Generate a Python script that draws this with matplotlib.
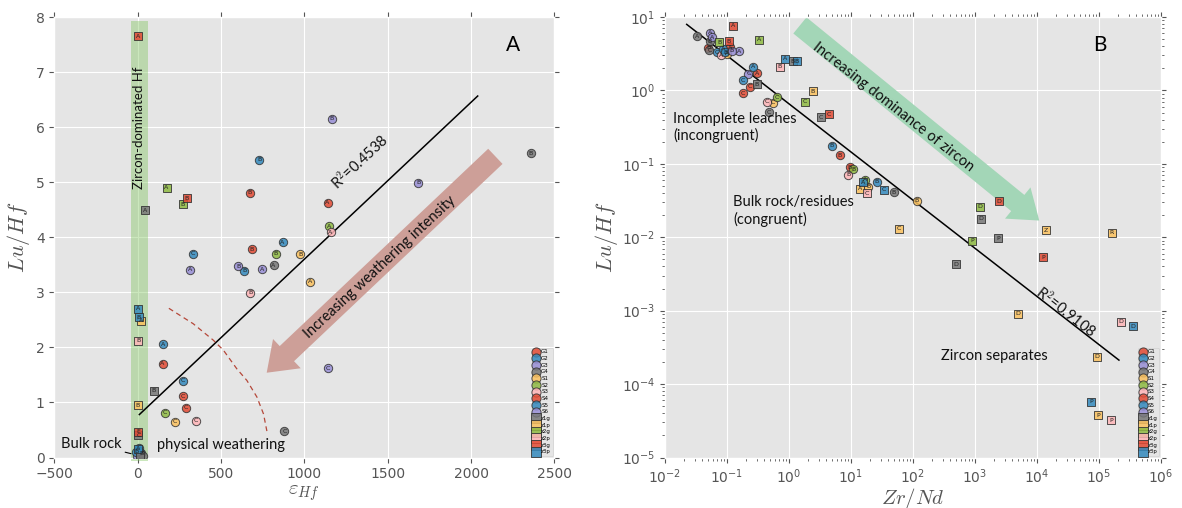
import matplotlib.pyplot as plt
from matplotlib.patches import Rectangle

plt.style.use('ggplot')
plt.rcParams['mathtext.fontset'] = 'cm'

GROUPS = ['G1', 'G2', 'G3', 'G4', 'S1', 'S2', 'S3', 'S4', 'S5', 'S6',
          'z1g', 'z1p', 'z2g', 'z2p', 'z3g', 'z3p']
COLORS = {'G1': '#E24A33', 'G2': '#348ABD', 'G3': '#988ED5', 'G4': '#777777',
          'S1': '#FBC15E', 'S2': '#8EBA42', 'S3': '#FFB5B8', 'S4': '#E24A33',
          'S5': '#348ABD', 'S6': '#988ED5',
          'z1g': '#777777', 'z1p': '#FBC15E', 'z2g': '#8EBA42',
          'z2p': '#FFB5B8', 'z3g': '#E24A33', 'z3p': '#348ABD'}

# panel A: epsilon Hf vs Lu/Hf
eps_hf = [329, 313, 604, 639, 747, 815, 683, 827, 974, 869, 1034, 675,
          153, 149, 273, 273, 291, 165, 223, 349, 880, 1140, 1163, 729,
          671, 1139, 1149, 1157, 2357, 1683,
          5, -8, 12, 22, -4, 30, 8,
          0, 173, 293, 271, 42, 2, 5, 18, 2, 96, 0, 2, 4, 0, 12]
lu_hf_a = [3.70, 3.41, 3.47, 3.39, 3.42, 3.49, 3.78, 3.70, 3.69, 3.91, 3.19, 2.99,
           2.06, 1.70, 1.39, 1.11, 0.90, 0.81, 0.65, 0.67, 0.48, 1.62, 6.15, 5.41,
           4.81, 4.63, 4.20, 4.09, 5.53, 4.99,
           0.17, 0.10, 0.05, 0.08, 0.03, 0.02, 0.12,
           7.65, 4.90, 4.71, 4.60, 4.49, 2.70, 2.55, 2.48, 2.12, 1.21, 0.95, 0.47, 0.40, 0.15, 0.05]
grp_a = ['G2', 'G3', 'S6', 'S5', 'S6', 'G4', 'S4', 'S2', 'S1', 'S5', 'S1', 'S3',
         'G2', 'G1', 'S5', 'G1', 'S4', 'S2', 'S1', 'S3', 'G4', 'G3', 'G3', 'G2',
         'G1', 'S4', 'S2', 'S3', 'G4', 'S6',
         'G2', 'S5', 'G4', 'G2', 'G3', 'G4', 'S5',
         'z3g', 'z2g', 'z3g', 'z2g', 'z1g', 'z3p', 'z3p', 'z1p', 'z2p', 'z1g', 'z1p', 'z3g', 'z1g', 'z3p', 'z1g']
lab_a = ['C', 'A', 'B', 'B', 'A', 'A', 'B', 'B', 'B', 'A', 'A', 'B',
         'A', 'A', 'C', 'C', 'C', 'C', 'C', 'C', 'C', 'C', 'B', 'B',
         'B', 'A', 'A', 'A', 'B', 'B',
         'A', 'B', '', 'B', '', '', '',
         'A', 'A', 'B', 'B', 'A', 'A', 'B', 'A', 'B', 'B', 'B', 'E', 'C', '', '']

# panel B: Zr/Nd vs Lu/Hf
zr_nd = [0.0332, 0.0532, 0.0566, 0.0532, 0.0519, 0.0499, 0.0698, 0.0871, 0.0939,
         0.0791, 0.0989, 0.119, 0.158, 0.112, 0.262, 0.221, 0.305, 0.183, 0.235,
         0.179, 0.436, 0.558, 0.648, 0.475, 4.89, 6.65, 9.64, 10.9, 9.04, 16.8,
         26.0, 19.0, 49.4, 115,
         0.126, 0.0751, 0.106, 0.324, 0.861, 0.716, 1.33, 1.15, 0.301, 2.41, 1.83,
         4.42, 3.24, 15.8, 14.0, 18.3, 34.0, 59.4, 2410, 1190, 1240, 904, 2380,
         489, 14100, 160000, 12600, 4890, 229000, 357000, 91800, 74300, 97500, 156000]
lu_hf_b = [5.52, 6.07, 5.35, 4.72, 3.53, 3.84, 3.34, 3.72, 3.34,
           3.02, 3.18, 3.45, 3.42, 3.91, 2.09, 1.70, 1.73, 1.38, 1.12,
           0.91, 0.70, 0.679, 0.804, 0.502, 0.177, 0.132, 0.090, 0.085, 0.0707, 0.0604,
           0.0573, 0.049, 0.0411, 0.0313,
           7.64, 4.57, 4.72, 4.93, 2.72, 2.09, 2.52, 2.52, 1.21, 0.969, 0.70,
           0.472, 0.430, 0.0562, 0.0456, 0.0399, 0.0442, 0.0130, 0.0310, 0.0262, 0.0180, 0.00895, 0.00975,
           0.00427, 0.01253, 0.0116, 0.00532, 0.000914, 0.000705, 0.000614, 0.000236, 5.77e-5, 3.79e-5, 3.21e-5]
grp_b = ['G4', 'G3', 'S6', 'G4', 'G4', 'G1', 'G2', 'S5', 'S5',
         'S3', 'S1', 'S6', 'G3', 'S4', 'G2', 'G3', 'G1', 'S5', 'G1',
         'S4', 'S3', 'S1', 'S2', 'G4', 'G2', 'S4', 'G1', 'S2', 'S3', 'S2',
         'S5', 'S1', 'G4', 'S1',
         'z3g', 'z2g', 'z3g', 'z2g', 'z3p', 'z2p', 'z3p', 'z1g', 'z1g', 'z1p', 'z2g',
         'z3g', 'z1g', 'z3p', 'z1p', 'z2p', 'z3p', 'z1p', 'z3g', 'z2g', 'z1g', 'z2g', 'z1g',
         'z1g', 'z1p', 'z1p', 'z3g', 'z1p', 'z2p', 'z3p', 'z1p', 'z3p', 'z1p', 'z2p']
lab_b = ['A', 'A', 'A', 'B', 'C', 'B', 'C', 'A', 'B',
         'A', 'A', 'B', 'A', 'A', 'A', 'C', 'A', 'C', 'C',
         'C', 'C', 'C', 'C', 'C', 'B', 'B', 'B', 'B', 'B', 'A',
         'B', 'B', 'B', 'B',
         'A', 'B', 'B', 'A', 'A', 'B', 'B', 'B', 'B', 'B', 'C',
         'C', 'C', 'A', 'A', 'C', 'C', 'C', 'D', 'D', 'D', 'P', 'P',
         'D', 'Z', 'R', 'P', 'D', 'D', 'D', 'D', 'P', 'P', 'P']

# regression fits as drawn in the figure
fit_a_slope, fit_a_intercept = 0.00285, 0.752
fit_a_x = [10, 2040]
fit_b_exp, fit_b_coef = -0.656, 0.658
fit_b_x = [0.0224, 2.1e5]

# dashed boundary traced in panel A
arc_x = [187, 333, 454, 514, 595, 655, 715, 755, 775]
arc_y = [2.71, 2.43, 2.13, 1.95, 1.61, 1.40, 1.10, 0.79, 0.48]

TXT = dict(family='Lato', fontsize=10.5, color='#111111')


def plot_points(ax, xs, ys, grps, labs):
    for g in GROUPS:
        idx = [i for i, gg in enumerate(grps) if gg == g]
        marker = 's' if g.startswith('z') else 'o'
        ax.scatter([xs[i] for i in idx], [ys[i] for i in idx], s=36, marker=marker,
                   c=COLORS[g], edgecolors='#333333', linewidths=0.7, alpha=0.85,
                   label=g, zorder=3)
    for x, y, l in zip(xs, ys, labs):
        if l:
            ax.text(x, y, l, fontsize=4.5, ha='center', va='center',
                    color='#222222', zorder=4, clip_on=True)


def add_legend(ax):
    ax.legend(loc='lower right', fontsize=4, scatterpoints=1, labelspacing=0.3,
              handletextpad=0.4, handlelength=1.0, borderpad=0.3,
              borderaxespad=0.3, markerscale=1.1)


fig = plt.figure(figsize=(11.82, 5.08), dpi=100)

# ---- panel A ----
ax1 = fig.add_axes([0.046, 0.0994, 0.423, 0.867])
ax1.add_patch(Rectangle((-40, -0.07), 100, 8.0, fc='#7dc35a', alpha=0.4,
                        ec='none', clip_on=False, zorder=1))
ax1.plot(fit_a_x, [fit_a_intercept + fit_a_slope * x for x in fit_a_x],
         color='k', lw=1.1, zorder=2)
ax1.plot(arc_x, arc_y, ls=(0, (4, 3)), color='#b5483a', lw=0.9, zorder=2)
ax1.annotate('', xy=(774, 1.54), xytext=(2146, 5.47),
             arrowprops=dict(arrowstyle='simple,head_length=2.0,head_width=2.9,tail_width=1.5',
                             mutation_scale=10, fc='#cd9f98', ec='none',
                             shrinkA=0, shrinkB=0), zorder=1.5)
plot_points(ax1, eps_hf, lu_hf_a, grp_a, lab_a)
ax1.text(10, 5.98, 'Zircon-dominated Hf', rotation=90, ha='center', va='center',
         family='Lato', fontsize=9.5, color='#111111')
ax1.text(1334, 5.37, 'R$^2$=0.4538', rotation=43, ha='center', va='center', **TXT)
ax1.text(1454, 3.45, 'Increasing weathering intensity', rotation=43,
         ha='center', va='center', **TXT)
ax1.annotate('Bulk rock', xy=(-40, 0.07), xytext=(-100, 0.25), ha='right', va='center',
             arrowprops=dict(arrowstyle='-', lw=0.8, color='k', shrinkA=1, shrinkB=0),
             **TXT)
ax1.text(118, 0.22, 'physical weathering', ha='left', va='center', **TXT)
ax1.text(2252, 7.5, 'A', ha='center', va='center', family='Lato', fontsize=15)
ax1.set_xlim(-500, 2500)
ax1.set_ylim(0, 8)
ax1.set_xticks(range(-500, 2501, 500))
ax1.set_xlabel(r'$\varepsilon_{Hf}$', fontsize=15, labelpad=1)
ax1.set_ylabel(r'$Lu/Hf$', fontsize=16, labelpad=3)
ax1.tick_params(top=True, right=True, labelsize=10)
add_legend(ax1)

# ---- panel B ----
ax2 = fig.add_axes([0.5626, 0.0994, 0.4196, 0.867])
ax2.set_xscale('log')
ax2.set_yscale('log')
ax2.plot(fit_b_x, [fit_b_coef * x ** fit_b_exp for x in fit_b_x],
         color='k', lw=1.1, zorder=2)
ax2.annotate('', xy=(1.09e4, 0.0169), xytext=(1.5, 7.7),
             arrowprops=dict(arrowstyle='simple,head_length=2.0,head_width=2.9,tail_width=1.5',
                             mutation_scale=10, fc='#a3d6b7', ec='none',
                             shrinkA=0, shrinkB=0), zorder=1.5)
plot_points(ax2, zr_nd, lu_hf_b, grp_b, lab_b)
ax2.text(47.5, 0.598, 'Increasing dominance of zircon', rotation=-38,
         ha='center', va='center', **TXT)
ax2.text(2.92e4, 9.8e-4, 'R$^2$=0.9108', rotation=-38, ha='center', va='center', **TXT)
ax2.text(0.0136, 0.313, 'Incomplete leaches\n(incongruent)', ha='left', va='center', **TXT)
ax2.text(0.125, 0.0227, 'Bulk rock/residues\n(congruent)', ha='left', va='center', **TXT)
ax2.text(283, 2.4e-4, 'Zircon separates', ha='left', va='center', **TXT)
ax2.text(1.04e5, 4.12, 'B', ha='center', va='center', family='Lato', fontsize=15)
ax2.set_xlim(1e-2, 1e6)
ax2.set_ylim(1e-5, 1e1)
ax2.set_xlabel(r'$Zr/Nd$', fontsize=15, labelpad=0)
ax2.set_ylabel(r'$Lu/Hf$', fontsize=16, labelpad=1)
ax2.tick_params(which='both', top=True, right=True, labelsize=10)
add_legend(ax2)

plt.savefig('out.png', dpi=100)
